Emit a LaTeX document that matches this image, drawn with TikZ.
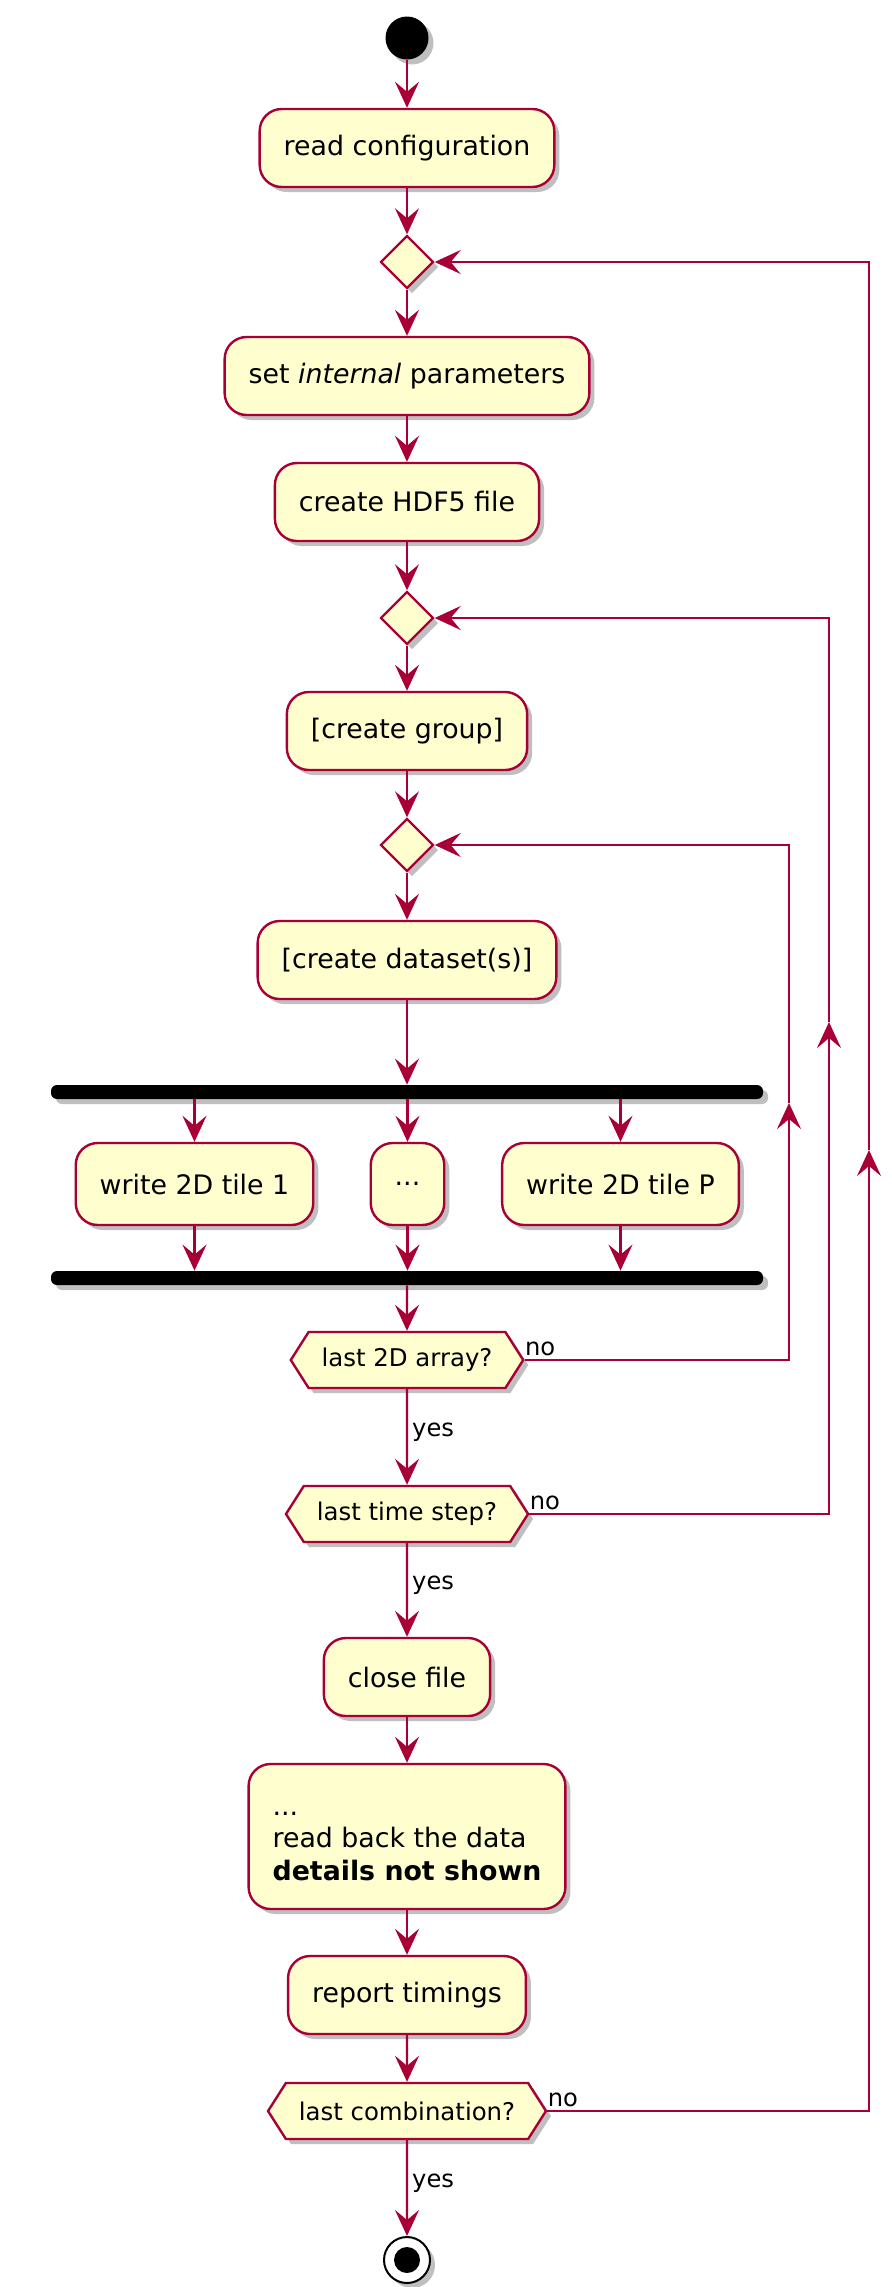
\documentclass[tikz,border=0pt]{standalone}
\usepackage{fontspec}
\setmainfont{DejaVu Sans}
\usetikzlibrary{positioning,arrows.meta,shapes.geometric,shapes.symbols,shadows}
\definecolor{umlred}{HTML}{A80036}
\definecolor{umlfill}{HTML}{FEFECE}
\tikzset{>={Stealth[length=13pt,width=12pt,inset=5pt]}}
\tikzset{
  flow/.style={->,draw=umlred,line width=1.2pt},
  shadowed/.style={drop shadow={shadow xshift=2.5pt,shadow yshift=-2.5pt,opacity=.25,fill=black}},
  act/.style={rectangle,rounded corners=11pt,draw=umlred,fill=umlfill,line width=1.2pt,shadowed,
    minimum height=39pt,inner xsep=12pt,font=\fontsize{13.4}{16.25}\selectfont},
  merge/.style={diamond,draw=umlred,fill=umlfill,line width=1.2pt,shadowed,minimum size=26.5pt,inner sep=0pt},
  test/.style={signal,signal to=west and east,signal pointer angle=115,draw=umlred,fill=umlfill,
    line width=1.2pt,shadowed,minimum height=28pt,inner xsep=6.5pt,font=\fontsize{12.2}{14}\selectfont},
  bar/.style={rectangle,rounded corners=3pt,fill=black,shadowed,minimum width=356pt,minimum height=7pt,inner sep=0pt},
  lbl/.style={inner sep=2pt,font=\fontsize{12.1}{14}\selectfont},
  nolbl/.style={lbl,anchor=south west,inner xsep=0pt}
}

\begin{document}
\begin{tikzpicture}[x=0.5pt,y=-0.5pt]
\useasboundingbox (0,0) rectangle (892,2287);
\node[circle,fill=black,shadowed,minimum size=21.5pt,inner sep=0pt] (start) at (407,38) {};
\node[act] (cfg) at (407,148) {read configuration};
\node[merge] (m1) at (407,262) {};
\node[act] (par) at (407,376) {set \textit{internal} parameters};
\node[act] (h5) at (407,502) {create HDF5 file};
\node[merge] (m2) at (407,618) {};
\node[act] (grp) at (407,731) {[create group]};
\node[merge] (m3) at (407,845) {};
\node[act] (dset) at (407,960) {[create dataset(s)]};
\node[bar] (fork) at (407,1092) {};
\node[act,minimum height=41pt] (t1) at (194.5,1184) {write 2D tile 1};
\node[act,minimum height=41pt] (tdots) at (407.5,1184) {...};
\node[act,minimum height=41pt] (tP) at (620.5,1184) {write 2D tile P};
\node[bar] (join) at (407,1278) {};
\node[test] (q1) at (407,1360) {last 2D array?};
\node[test] (q2) at (407,1514) {last time step?};
\node[act] (close) at (407,1677) {close file};
\node[act,align=left,minimum height=72.5pt] (back) at (407,1836.5) {\strut...\\read back the data\\\textbf{details not shown}};
\node[act] (tim) at (407,1995) {report timings};
\node[test] (q3) at (407,2111) {last combination?};
\node[circle,draw=black,fill=white,line width=1pt,shadowed,minimum size=23pt,inner sep=0pt] (stop) at (407,2260) {};
\node[circle,fill=black,minimum size=13pt,inner sep=0pt] (stopdot) at (stop) {};

\draw[flow] (start) -- (cfg);
\draw[flow] (cfg) -- (m1);
\draw[flow] (m1) -- (par);
\draw[flow] (par) -- (h5);
\draw[flow] (h5) -- (m2);
\draw[flow] (m2) -- (grp);
\draw[flow] (grp) -- (m3);
\draw[flow] (m3) -- (dset);
\draw[flow] (dset) -- (fork);
\foreach \t in {t1,tdots,tP} {
  \draw[flow] (\t.north |- fork.south) -- (\t.north);
  \draw[flow] (\t.south) -- (\t.south |- join.north);
}
\draw[flow] (join) -- (q1);
\draw[flow] (q1) -- node[lbl,right,pos=.45] (yes1) {yes} (q2);
\draw[flow] (q2) -- node[lbl,right,pos=.45] (yes2) {yes} (close);
\draw[flow] (close) -- (back);
\draw[flow] (back) -- (tim);
\draw[flow] (tim) -- (q3);
\draw[flow] (q3) -- node[lbl,right,pos=.45] (yes3) {yes} (stop);

% loops back
\coordinate (up1) at (789,1103);
\coordinate (up2) at (829,1022);
\coordinate (up3) at (869,1150);
\draw[flow] (q1.east) -| (up1);
\draw[flow] (up1) |- (m3.east);
\draw[flow] (q2.east) -| (up2);
\draw[flow] (up2) |- (m2.east);
\draw[flow] (q3.east) -| (up3);
\draw[flow] (up3) |- (m1.east);
\node[nolbl] (no1) at (q1.east) {no};
\node[nolbl] (no2) at (q2.east) {no};
\node[nolbl] (no3) at (q3.east) {no};
\end{tikzpicture}
\end{document}
